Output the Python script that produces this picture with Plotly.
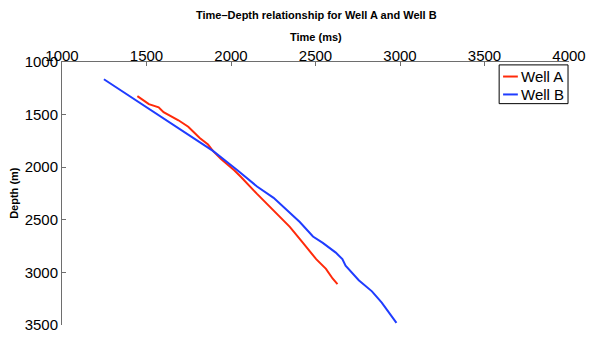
import plotly.graph_objects as go

# Well A: two-way time (ms) vs depth (m)
well_a_time = [1446, 1514, 1572, 1601, 1689, 1747, 1815, 1864, 1893, 1941, 2019,
               2058, 2154, 2252, 2348, 2426, 2504, 2562, 2601, 2630]
well_a_depth = [1324, 1401, 1431, 1477, 1554, 1615, 1723, 1785, 1845, 1923, 2029,
                2091, 2254, 2413, 2567, 2720, 2874, 2966, 3058, 3111]

# Well B: two-way time (ms) vs depth (m)
well_b_time = [1248, 1398, 1805, 1893, 2038, 2154, 2252, 2348, 2407, 2485, 2543,
               2620, 2659, 2678, 2756, 2834, 2892, 2979]
well_b_depth = [1164, 1324, 1753, 1845, 2029, 2183, 2291, 2429, 2521, 2659, 2720,
                2812, 2874, 2936, 3074, 3180, 3288, 3479]

x_ticks = [1000, 1500, 2000, 2500, 3000, 3500, 4000]
y_ticks = [1000, 1500, 2000, 2500, 3000, 3500]

names = ["Well A", "Well B"]
colors = ["#ff2a0a", "#1f3cff"]

W, H = 596, 343
L, T, R, B = 61.7, 61.5, 19, 10
pw, ph = W - L - R, H - T - B

FONT = "Liberation Sans, Arial, Helvetica, sans-serif"


def px_x(px):
    return (px - L) / pw


def px_y(py):
    return (H - B - py) / ph


fig = go.Figure()
fig.add_trace(go.Scatter(x=well_a_time, y=well_a_depth, mode="lines", name=names[0],
                         line=dict(color=colors[0], width=2)))
fig.add_trace(go.Scatter(x=well_b_time, y=well_b_depth, mode="lines", name=names[1],
                         line=dict(color=colors[1], width=2)))

axis_common = dict(
    showgrid=False, zeroline=False, showline=True, linecolor="#6e6e6e", linewidth=1,
    ticks="inside", ticklen=4, tickwidth=1, tickcolor="#6e6e6e",
    tickfont=dict(family=FONT, size=15, color="black"),
)

fig.update_layout(
    width=W, height=H,
    margin=dict(l=L, r=R, t=T, b=B, pad=0),
    paper_bgcolor="white", plot_bgcolor="white",
    showlegend=False,
    font=dict(family=FONT, color="black"),
    xaxis=dict(range=[1000, 4000], side="top", tickvals=x_ticks,
               ticktext=[str(v) for v in x_ticks], ticklabelstandoff=-6, **axis_common),
    yaxis=dict(range=[3500, 1000], tickvals=y_ticks,
               ticktext=[str(v) for v in y_ticks], **axis_common),
)

annotations = [
    dict(text="<b>Time\u2013Depth relationship for Well A and Well B</b>",
         x=px_x(320), y=px_y(13), font=dict(size=11)),
    dict(text="<b>Time (ms)</b>", x=px_x(320), y=px_y(36), font=dict(size=11)),
    dict(text="<b>Depth (m)</b>", x=px_x(13.5), y=px_y(197), textangle=-90,
         font=dict(size=11)),
]
for a in annotations:
    a.update(xref="paper", yref="paper", showarrow=False,
             xanchor="center", yanchor="middle")

# Legend box drawn in pixel-aligned paper coordinates
shapes = [dict(type="rect", xref="paper", yref="paper",
               x0=px_x(506), x1=px_x(576), y0=px_y(64.5), y1=px_y(104.5),
               line=dict(color="black", width=1), fillcolor="white", layer="above")]
for i, (name, col) in enumerate(zip(names, colors)):
    yy = px_y(76.5 + i * 18.5)
    shapes.append(dict(type="line", xref="paper", yref="paper",
                       x0=px_x(510), x1=px_x(525), y0=yy, y1=yy,
                       line=dict(color=col, width=2), layer="above"))
    annotations.append(dict(text=name, xref="paper", yref="paper", x=px_x(526.5), y=yy,
                            xanchor="left", yanchor="middle", showarrow=False,
                            font=dict(size=15, color="black")))

fig.update_layout(annotations=annotations, shapes=shapes)
fig.write_html("out.html")
